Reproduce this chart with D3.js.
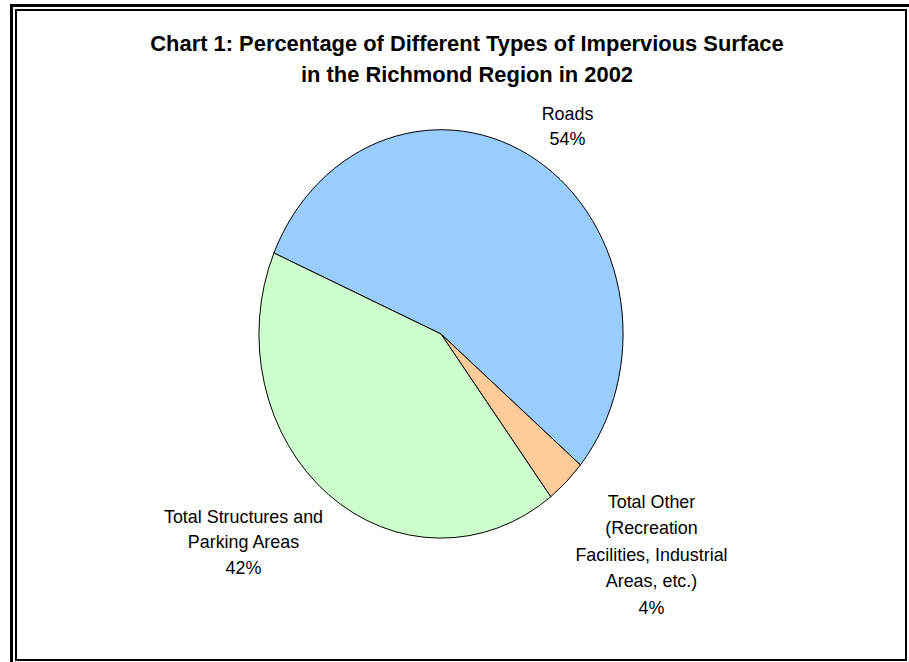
<!DOCTYPE html>
<html>
<head>
<meta charset="utf-8">
<script src="https://cdn.jsdelivr.net/npm/d3@7"></script>
<style>
  html, body { margin: 0; padding: 0; background: #fff; }
  svg { display: block; }
  text { font-family: "Liberation Sans", Arial, sans-serif; fill: #000; }
</style>
</head>
<body>
<svg id="chart" width="909" height="662"></svg>
<script>
// ---- data ----
const categories = ["Roads", "Total Other", "Total Structures and Parking Areas"];
const values = [54.6, 3.6, 41.8];
const percentLabels = ["54%", "4%", "42%"];
const labelLines = [
  ["Roads", "54%"],
  ["Total Other", "(Recreation", "Facilities, Industrial", "Areas, etc.)", "4%"],
  ["Total Structures and", "Parking Areas", "42%"]
];
const colors = ["#99CCFF", "#FFCC99", "#CCFFCC"];
const titleLines = [
  "Chart 1: Percentage of Different Types of Impervious Surface",
  "in the Richmond Region in 2002"
];

// ---- layout ----
const W = 909, H = 662;
const cx = 441, cy = 334, rx = 182, ry = 204;
const startDeg = -66.6;
const labelPos = [
  { x: 567.5, y: 120, dy: 24.5 },
  { x: 651.5, y: 507.5, dy: 26.5 },
  { x: 243.5, y: 522.7, dy: 25.6 }
];

const svg = d3.select("#chart");
svg.append("rect").attr("width", W).attr("height", H).attr("fill", "#fff");

// frames
svg.append("rect").attr("x", 11.5).attr("y", 5.5).attr("width", 1000).attr("height", 1000)
  .attr("fill", "none").attr("stroke", "#000").attr("stroke-width", 3);
svg.append("rect").attr("x", 16).attr("y", 10).attr("width", 890).attr("height", 650)
  .attr("fill", "none").attr("stroke", "#000").attr("stroke-width", 2);

// title
svg.append("g").selectAll("text").data(titleLines).join("text")
  .attr("x", 467).attr("y", (d, i) => 51 + i * 31)
  .attr("text-anchor", "middle")
  .style("font-size", "21.9px").style("font-weight", "bold")
  .text(d => d);

// pie
const pie = d3.pie().sort(null).value(d => d)
  .startAngle(startDeg * Math.PI / 180)
  .endAngle(startDeg * Math.PI / 180 + 2 * Math.PI);
const arc = d3.arc().innerRadius(0).outerRadius(1);
const arcs = pie(values);

svg.append("g")
  .attr("transform", `translate(${cx},${cy}) scale(${rx},${ry})`)
  .selectAll("path").data(arcs).join("path")
  .attr("d", arc)
  .attr("fill", (d, i) => colors[i])
  .attr("stroke", "#000")
  .attr("stroke-width", 1)
  .attr("vector-effect", "non-scaling-stroke");

// labels
const lg = svg.append("g");
labelLines.forEach((lines, i) => {
  const p = labelPos[i];
  lg.append("g").selectAll("text").data(lines).join("text")
    .attr("x", p.x).attr("y", (d, j) => p.y + j * p.dy)
    .attr("text-anchor", "middle")
    .style("font-size", "17.9px")
    .text(d => d);
});
</script>
</body>
</html>
